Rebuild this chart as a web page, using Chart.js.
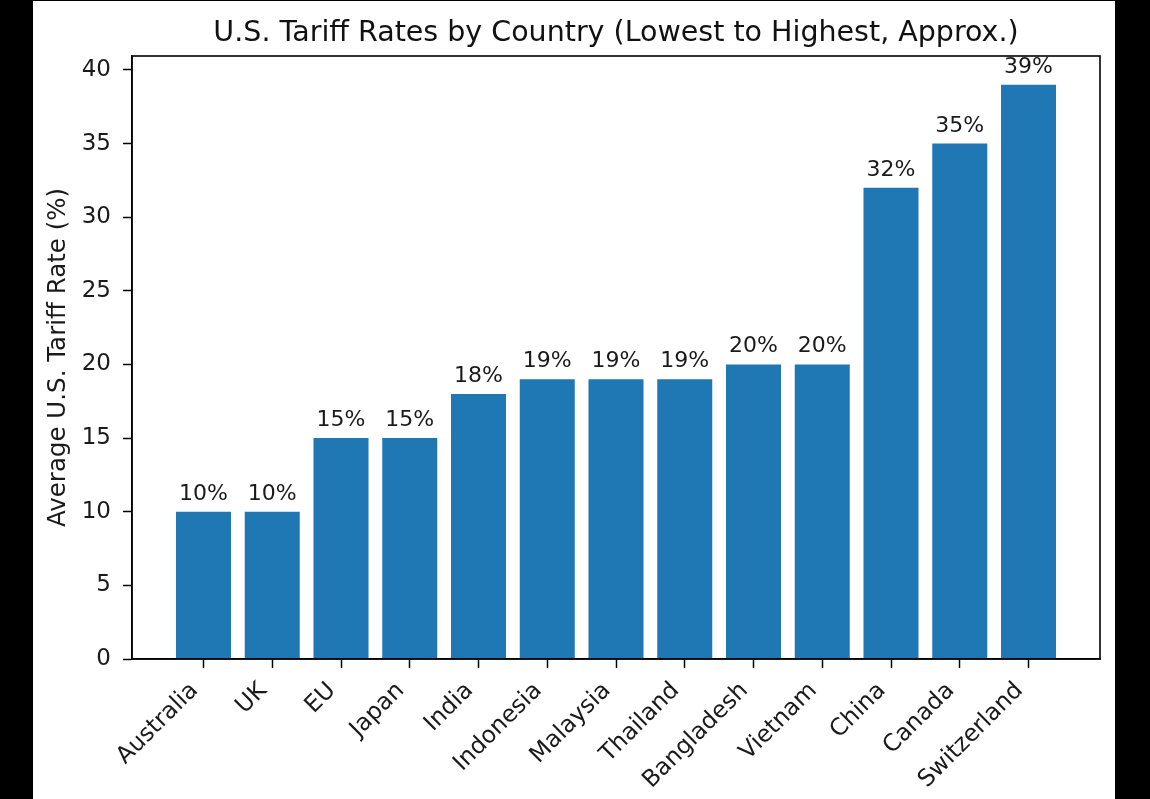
<!DOCTYPE html>
<html>
<head>
<meta charset="utf-8">
<script src="https://cdn.jsdelivr.net/npm/chart.js@4.4.1/dist/chart.umd.min.js"></script>
<style>
  html, body { margin: 0; padding: 0; background: #000; }
  #wrap { width: 1150px; height: 799px; }
</style>
</head>
<body>
<div id="wrap"><canvas id="c" width="1150" height="799"></canvas></div>
<script>
const categories = ["Australia", "UK", "EU", "Japan", "India", "Indonesia", "Malaysia", "Thailand", "Bangladesh", "Vietnam", "China", "Canada", "Switzerland"];
const tariffRates = [10, 10, 15, 15, 18, 19, 19, 19, 20, 20, 32, 35, 39];
const yTicks = [0, 5, 10, 15, 20, 25, 30, 35, 40];
const chartTitle = "U.S. Tariff Rates by Country (Lowest to Highest, Approx.)";
const yAxisTitle = "Average U.S. Tariff Rate (%)";

const FONT = "'DejaVu Sans', sans-serif";
const BAR = '#1f77b4';
const TXT = '#1a1a1a';

const bgPlugin = {
  id: 'bg',
  beforeDraw(chart) {
    const ctx = chart.ctx;
    ctx.save();
    ctx.fillStyle = '#000';
    ctx.fillRect(0, 0, chart.width, chart.height);
    ctx.fillStyle = '#fff';
    ctx.fillRect(33, 1, 1115 - 33, chart.height - 1);
    ctx.restore();
  }
};

const labelPlugin = {
  id: 'barLabels',
  afterDatasetsDraw(chart) {
    const ctx = chart.ctx;
    const meta = chart.getDatasetMeta(0);
    ctx.save();
    ctx.font = "22px " + FONT;
    ctx.fillStyle = TXT;
    ctx.textAlign = 'center';
    ctx.textBaseline = 'alphabetic';
    meta.data.forEach((bar, i) => {
      ctx.fillText(tariffRates[i] + '%', bar.x, bar.y - 12);
    });
    ctx.restore();
  }
};

const framePlugin = {
  id: 'frame',
  afterDraw(chart) {
    const a = chart.chartArea;
    const ctx = chart.ctx;
    ctx.save();
    ctx.strokeStyle = '#000';
    ctx.lineWidth = 1.6;
    ctx.strokeRect(a.left, a.top, a.right - a.left, a.bottom - a.top);
    ctx.restore();
  }
};

new Chart(document.getElementById('c'), {
  type: 'bar',
  data: {
    datasets: [{
      data: tariffRates.map((v, i) => ({ x: i, y: v })),
      backgroundColor: BAR,
      borderWidth: 0,
      barPercentage: 0.8,
      categoryPercentage: 1.0
    }]
  },
  options: {
    responsive: false,
    animation: false,
    devicePixelRatio: 1,
    layout: { padding: { left: 33, right: 50, top: 1, bottom: 0 } },
    plugins: {
      legend: { display: false },
      tooltip: { enabled: false },
      title: {
        display: true,
        text: chartTitle,
        fullSize: false,
        color: '#111',
        font: { family: FONT, size: 28.5, weight: 'normal' },
        padding: { top: 15, bottom: 5.8 }
      }
    },
    scales: {
      x: {
        type: 'linear',
        offset: false,
        min: -1.04,
        max: 13.04,
        afterBuildTicks(scale) {
          scale.ticks = categories.map((c, i) => ({ value: i }));
        },
        afterFit(scale) { scale.height = 140; },
        grid: { offset: false, drawOnChartArea: false, drawTicks: true, tickLength: 9, color: '#000', tickWidth: 1.5 },
        border: { display: true, color: '#000', width: 1.5 },
        ticks: {
          autoSkip: false,
          maxRotation: 45,
          minRotation: 45,
          padding: 9,
          labelOffset: -9,
          color: TXT,
          font: { family: FONT, size: 23.5 },
          callback: (v) => categories[v]
        }
      },
      y: {
        min: 0,
        max: 40.95,
        afterBuildTicks(scale) {
          scale.ticks = yTicks.map(v => ({ value: v }));
        },
        afterFit(scale) { scale.width = 99; },
        grid: { drawOnChartArea: false, drawTicks: true, tickLength: 9, color: '#000', tickWidth: 1.5 },
        border: { display: true, color: '#000', width: 1.5 },
        title: {
          display: true,
          text: yAxisTitle,
          color: TXT,
          font: { family: FONT, size: 24.5 },
          padding: { top: 11.3, bottom: 4 }
        },
        ticks: {
          padding: 12,
          color: TXT,
          font: { family: FONT, size: 23 }
        }
      }
    }
  },
  plugins: [bgPlugin, labelPlugin, framePlugin]
});
</script>
</body>
</html>
